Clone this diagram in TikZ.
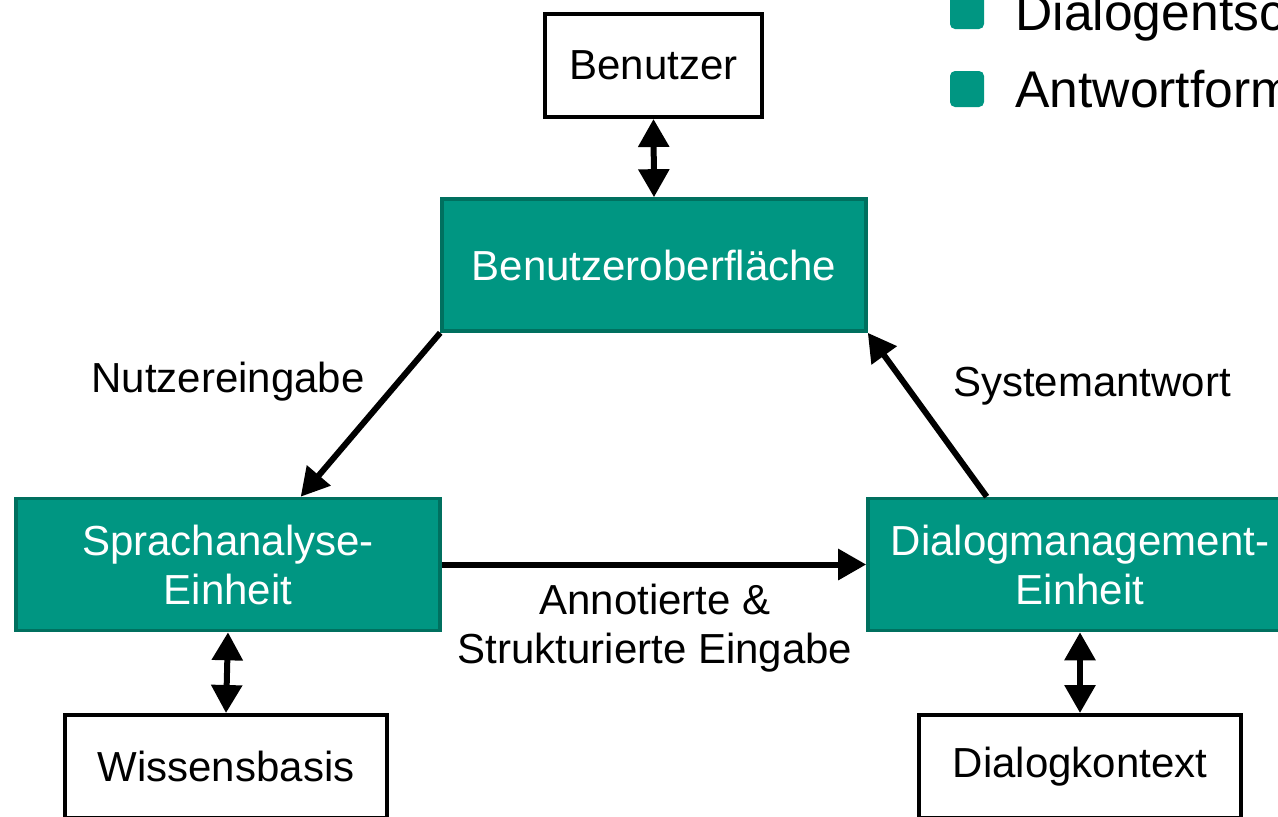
\documentclass[tikz,border=0pt]{standalone}
\usepackage{fontspec}
\setmainfont{Liberation Sans}
\usetikzlibrary{arrows.meta}
\definecolor{teal}{RGB}{0,150,130}
\definecolor{tealdark}{RGB}{0,112,95}
\tikzset{
  unit/.style={draw=tealdark,line width=1.8pt,fill=teal,text=white,align=center,
    minimum width=212pt,minimum height=66pt,inner sep=0pt},
  extern/.style={draw=black,line width=2pt,fill=white,align=center,
    minimum height=51.5pt,inner sep=0pt},
  flow/.style={line width=3pt,-{Triangle[width=15pt,length=14pt]}},
  both/.style={line width=3pt,{Triangle[width=15pt,length=14pt]}-{Triangle[width=15pt,length=14pt]}},
  lbl/.style={align=center,inner sep=0pt},
  punkt/.style={anchor=base west,inner sep=0pt,font=\fontsize{25.8}{30}\selectfont}
}
\begin{document}
\begin{tikzpicture}[x=0.5pt,y=-0.5pt,font=\fontsize{21}{24.5}\selectfont]
\clip (0,0) rectangle (1278,816);
\node[extern,minimum width=108.5pt] (benutzer) at (653.5,65.5) {Benutzer};
\node[unit] (ui) at (654,265) {Benutzeroberfläche};
\node[unit] (sprach) at (228,564.5) {Sprachanalyse-\\Einheit};
\node[unit] (dialog) at (1080,564.5) {Dialogmanagement-\\Einheit};
\node[extern,minimum width=161pt] (wissen) at (226,766.5) {Wissensbasis};
\node[extern,minimum width=161pt] (kontext) at (1080,766.5) {Dialogkontext};
\node[lbl] (eingabe) at (228,382) {Nutzereingabe};
\node[lbl] (antwort) at (1092,386) {Systemantwort};
\node[lbl] (annot) at (655,628) {Annotierte \&\\Strukturierte Eingabe};
% Aufzaehlung oben rechts
\fill[teal,rounded corners=2.5pt] (950,-7) rectangle (984,29);
\fill[teal,rounded corners=2.5pt] (950,71) rectangle (984,107);
\node[punkt] (punkt1) at (1015,30) {Dialogentsc};
\node[punkt] (punkt2) at (1015,107) {Antwortform};
\draw[both] (benutzer.south) -- (ui.north);
\draw[flow] (ui.south west) -- (sprach.43.6);
\draw[flow] (dialog.144.6) -- (ui.south east);
\draw[flow] (sprach.east) -- (dialog.west);
\draw[both] (sprach.south) -- (wissen.north);
\draw[both] (dialog.south) -- (kontext.north);
\end{tikzpicture}
\end{document}
